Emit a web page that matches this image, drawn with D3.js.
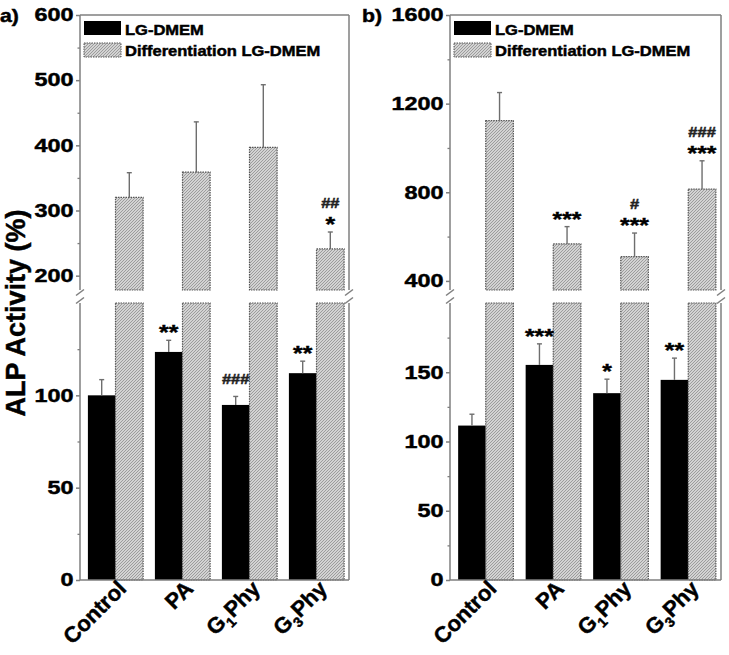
<!DOCTYPE html>
<html lang="en">
<head>
  <meta charset="UTF-8" />
  <title>ALP Activity</title>
  <script src="https://d3js.org/d3.v7.min.js"></script>
  <style>
    body { margin: 0; background: #fff; }
    svg { display: block; font-family: "Liberation Sans", Arial, sans-serif; font-weight: bold; }
    svg text { font-weight: bold; fill: #000; stroke: #000; stroke-width: 0.45px; }
  </style>
</head>
<body>
  <svg width="729" height="655"></svg>
  <script>
    // groups and labels
    const groups = ["Control", "PA", "G1Phy", "G3Phy"];
    const labelMain = ["Control", "PA", "G", "G"];
    const labelSub = ["", "", "1", "3"];
    const labelRest = ["", "", "Phy", "Phy"];
    const seriesNames = ["LG-DMEM", "Differentiation LG-DMEM"];

    // panel a) values (read off the picture)
    const aBlack = [100, 123.5, 94.8, 112];
    const aBlackErr = [8.5, 6.3, 4.6, 6.5];
    const aDiff = [320, 359, 397, 241];
    const aDiffErr = [38, 77, 96, 26];
    const aBlackStars = ["", "**", "", "**"];
    const aBlackHash = ["", "", "###", ""];
    const aDiffStars = ["", "", "", "*"];
    const aDiffHash = ["", "", "", "##"];

    // panel b) values
    const bBlack = [111.5, 155.3, 134.9, 144.5];
    const bBlackErr = [8.2, 15.2, 10.1, 15.7];
    const bDiff = [1123, 567, 510, 814];
    const bDiffErr = [127, 78, 106, 128];
    const bBlackStars = ["", "***", "*", "**"];
    const bBlackHash = ["", "", "", ""];
    const bDiffStars = ["", "***", "***", "***"];
    const bDiffHash = ["", "", "#", "###"];

    // axis ticks
    const aTopTicks = [200, 300, 400, 500, 600], aTopMinor = [250, 350, 450, 550];
    const aBotTicks = [0, 50, 100], aBotMinor = [25, 75, 125];
    const bTopTicks = [400, 800, 1200, 1600], bTopMinor = [600, 1000, 1400];
    const bBotTicks = [0, 50, 100, 150], bBotMinor = [25, 75, 125, 175];

    const svg = d3.select("svg");
    const SX = 1.18;           // the figure is a bit wider than tall
    const axisColor = "#7f7f7f";
    const plotTop = 15, brk1 = 290, brk2 = 303, plotBottom = 580;

    // hatch for the differentiation bars
    const defs = svg.append("defs");
    const pat = defs.append("pattern").attr("id", "hatch")
      .attr("patternUnits", "userSpaceOnUse").attr("width", 3).attr("height", 3);
    pat.append("rect").attr("width", 3).attr("height", 3).attr("fill", "#d3d3d3");
    pat.append("path").attr("d", "M0,3 L3,0 M-1,1 L1,-1 M2,4 L4,2")
      .attr("stroke", "#959595").attr("stroke-width", 0.9);

    function stretchText(g, x, y, str, size, anchor, sx) {
      return g.append("text")
        .attr("transform", `translate(${x},${y}) scale(${sx || SX},1)`)
        .attr("text-anchor", anchor || "start")
        .attr("font-size", size)
        .text(str);
    }

    function panel(p) {
      const g = svg.append("g");
      const x = d3.scaleBand().domain(groups).range([p.left + 2, p.right + 1]);
      const yT = d3.scaleLinear().domain(p.topDomain).range([brk1, plotTop]);
      const yB = d3.scaleLinear().domain(p.botDomain).range([plotBottom, brk2]);
      const bw = 27.6;
      const cx = d => x(d) + x.bandwidth() / 2;

      // black bars (bottom segment)
      g.append("g").selectAll("rect").data(groups).join("rect")
        .attr("x", d => cx(d) - bw).attr("width", bw)
        .attr("y", (d, i) => yB(p.black[i]))
        .attr("height", (d, i) => yB(0) - yB(p.black[i]))
        .attr("fill", "#000");

      // hatched bars: full in bottom segment, value in top segment
      const hb = g.append("g");
      hb.selectAll("rect.lo").data(groups).join("rect").attr("class", "lo")
        .attr("x", d => cx(d)).attr("width", bw)
        .attr("y", yB(p.botDomain[1])).attr("height", yB(0) - yB(p.botDomain[1]))
        .attr("fill", "url(#hatch)").attr("stroke", "#555")
        .attr("stroke-dasharray", "1.5,1").attr("stroke-width", 1.2);
      hb.selectAll("rect.hi").data(groups).join("rect").attr("class", "hi")
        .attr("x", d => cx(d)).attr("width", bw)
        .attr("y", (d, i) => yT(p.diff[i]))
        .attr("height", (d, i) => yT(p.topDomain[0]) - yT(p.diff[i]))
        .attr("fill", "url(#hatch)").attr("stroke", "#555")
        .attr("stroke-dasharray", "1.5,1").attr("stroke-width", 1.2);

      // error bars (upper only)
      const errs = [];
      groups.forEach((d, i) => {
        errs.push({ x: cx(d) - bw / 2, y0: yB(p.black[i]), y1: yB(p.black[i] + p.blackErr[i]),
          stars: p.blackStars[i], hash: p.blackHash[i] });
        errs.push({ x: cx(d) + bw / 2, y0: yT(p.diff[i]), y1: yT(p.diff[i] + p.diffErr[i]),
          stars: p.diffStars[i], hash: p.diffHash[i] });
      });
      const eg = g.append("g").attr("stroke", "#6e6e6e").attr("stroke-width", 1.4);
      eg.selectAll("line.v").data(errs).join("line").attr("class", "v")
        .attr("x1", d => d.x).attr("x2", d => d.x).attr("y1", d => d.y0).attr("y2", d => d.y1);
      eg.selectAll("line.c").data(errs).join("line").attr("class", "c")
        .attr("x1", d => d.x - 2.5).attr("x2", d => d.x + 2.5).attr("y1", d => d.y1).attr("y2", d => d.y1);

      // significance marks
      errs.forEach(d => {
        if (d.stars) stretchText(g, d.x, d.y1 - 1, d.stars, 21, "middle");
        if (d.hash) stretchText(g, d.x, d.y1 - (d.stars ? 24 : 12), d.hash, 14, "middle")
          .style("fill", "#222").style("stroke", "#222");
      });

      // frame
      const fr = g.append("g").attr("stroke", axisColor).attr("stroke-width", 1.5).attr("fill", "none");
      [p.left, p.right].forEach(ax => {
        fr.append("line").attr("x1", ax).attr("x2", ax).attr("y1", plotTop).attr("y2", brk1);
        fr.append("line").attr("x1", ax).attr("x2", ax).attr("y1", brk2).attr("y2", plotBottom);
        [brk1 + 2.5, brk2 - 2.5].forEach(yy => {
          fr.append("line").attr("x1", ax - 4).attr("x2", ax + 4)
            .attr("y1", yy + 3).attr("y2", yy - 3);
        });
      });
      fr.append("line").attr("x1", p.left).attr("x2", p.right).attr("y1", plotTop).attr("y2", plotTop);
      fr.append("line").attr("x1", p.left).attr("x2", p.right).attr("y1", plotBottom).attr("y2", plotBottom);

      // y axes
      function yAxis(scale, major, minor) {
        const a = g.append("g").attr("transform", `translate(${p.left},0)`)
          .call(d3.axisLeft(scale).tickValues(major).tickSize(4).tickPadding(1)
            .tickFormat(d3.format("d")));
        a.select(".domain").remove();
        a.selectAll("line").attr("stroke", axisColor).attr("stroke-width", 1.5);
        a.selectAll("text")
          .style("font-size", "18px").style("font-weight", "bold")
          .style("font-family", "'Liberation Sans', Arial, sans-serif")
          .attr("transform", "scale(1.3,1)");
        const m = g.append("g").attr("transform", `translate(${p.left},0)`)
          .call(d3.axisLeft(scale).tickValues(minor).tickSize(2.5).tickFormat(""));
        m.select(".domain").remove();
        m.selectAll("line").attr("stroke", axisColor).attr("stroke-width", 1.3);
      }
      yAxis(yT, p.topTicks, p.topMinor);
      yAxis(yB, p.botTicks, p.botMinor);

      // x labels
      groups.forEach((d, i) => {
        const t = g.append("text")
          .attr("transform", `translate(${cx(d) + 12},${plotBottom + 10}) rotate(-45)`)
          .attr("text-anchor", "end").attr("font-size", 22);
        t.append("tspan").text(labelMain[i]);
        if (labelSub[i]) {
          t.append("tspan").attr("font-size", 14).attr("dy", 6).text(labelSub[i]);
          t.append("tspan").attr("dy", -6).text(labelRest[i]);
        }
      });

      // legend
      const lx = p.left + 4;
      g.append("rect").attr("x", lx).attr("y", 21).attr("width", 37).attr("height", 14).attr("fill", "#000");
      g.append("rect").attr("x", lx).attr("y", 43).attr("width", 37).attr("height", 14)
        .attr("fill", "url(#hatch)").attr("stroke", "#555").attr("stroke-dasharray", "1.5,1");
      stretchText(g, lx + 41, 35, seriesNames[0], 14);
      stretchText(g, lx + 41, 55.5, seriesNames[1], 14);

      // panel letter
      stretchText(g, p.letterX, 22, p.letter, 18);
    }

    panel({
      left: 80, right: 349, letter: "a)", letterX: 0,
      topDomain: [178, 600], botDomain: [0, 150],
      topTicks: aTopTicks, topMinor: aTopMinor, botTicks: aBotTicks, botMinor: aBotMinor,
      black: aBlack, blackErr: aBlackErr, diff: aDiff, diffErr: aDiffErr,
      blackStars: aBlackStars, blackHash: aBlackHash, diffStars: aDiffStars, diffHash: aDiffHash
    });
    panel({
      left: 450, right: 721, letter: "b)", letterX: 362,
      topDomain: [359, 1600], botDomain: [0, 200],
      topTicks: bTopTicks, topMinor: bTopMinor, botTicks: bBotTicks, botMinor: bBotMinor,
      black: bBlack, blackErr: bBlackErr, diff: bDiff, diffErr: bDiffErr,
      blackStars: bBlackStars, blackHash: bBlackHash, diffStars: bDiffStars, diffHash: bDiffHash
    });

    // shared y title
    svg.append("text")
      .attr("transform", "translate(25,313) rotate(-90)")
      .attr("text-anchor", "middle").attr("font-size", 27)
      .text("ALP Activity (%)");
  </script>
</body>
</html>
